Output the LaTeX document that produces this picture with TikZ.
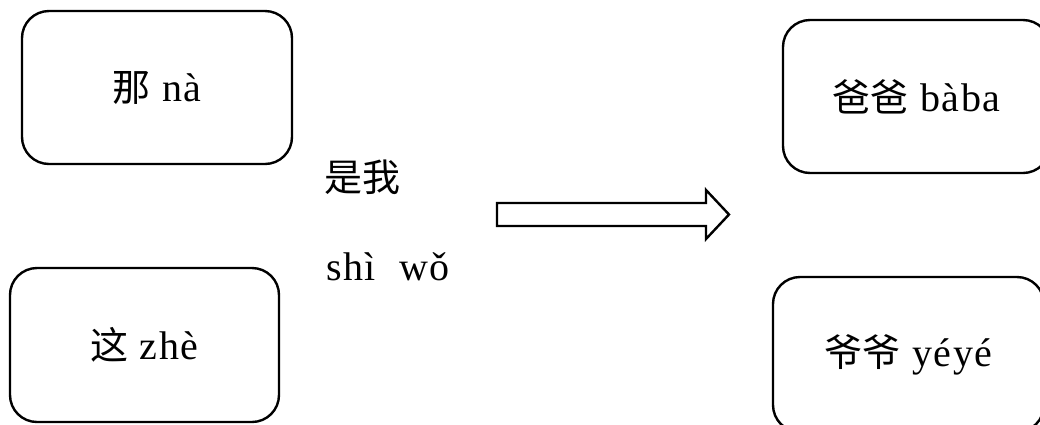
\documentclass[tikz,border=0pt]{standalone}
\usepackage{fontspec}
\setmainfont{Liberation Serif}[LetterSpace=4]
\newfontfamily\cjkfont{Noto Sans CJK SC}
\newcommand\zh[1]{{\fontsize{38}{42}\cjkfont #1}}
\begin{document}
\begin{tikzpicture}[x=1pt,y=-1pt,
  box/.style={draw, line width=2.4pt, rounded corners=27pt, inner sep=0pt,
    font=\fontsize{40}{42}\selectfont},
  lab/.style={inner sep=0pt, font=\fontsize{40}{42}\selectfont},
  blockarrow/.style={draw, line width=2.4pt, line join=miter, fill=white}]
\clip (0,0) rectangle (1040,424);
\node[box, minimum width=270pt, minimum height=153pt] (na) at (157,87.5) {\zh{那} nà};
\node[box, minimum width=269pt, minimum height=154pt] (zhe) at (144.5,345) {\zh{这} zhè};
\node[box, minimum width=267pt, minimum height=153pt] (baba) at (916.5,96.5) {\zh{爸爸} bàba};
\node[box, minimum width=271pt, minimum height=155pt] (yeye) at (908.5,354.5) {\zh{爷爷} yéyé};
\node[lab, anchor=west] (shiwo) at (324,177) {\zh{是我}};
\node[lab, anchor=base west] (pinyin) at (326,280) {shì\hspace{23pt}wǒ};
\draw[blockarrow] (497,203) -- (706,203) -- (706,190) -- (729,214.5)
  -- (706,239) -- (706,226) -- (497,226) -- cycle;
\end{tikzpicture}
\end{document}
